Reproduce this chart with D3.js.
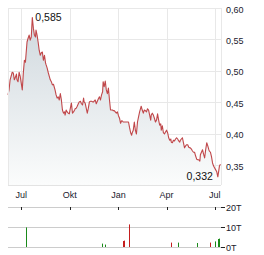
<!DOCTYPE html>
<html>
<head>
<meta charset="utf-8">
<script src="https://cdn.jsdelivr.net/npm/d3@7"></script>
<style>
  body { margin: 0; background: #fff; }
  svg { display: block; font-family: "Liberation Sans", Arial, sans-serif; }
</style>
</head>
<body>
<svg id="chart" width="264" height="255"></svg>
<script>
// price series (one entry per date)
const dates = [
  "2023-06-06","2023-06-08","2023-06-10","2023-06-14","2023-06-16","2023-06-18","2023-06-20","2023-06-22","2023-06-23","2023-06-25","2023-06-27","2023-06-29",
  "2023-07-01","2023-07-03","2023-07-05","2023-07-07","2023-07-09","2023-07-10","2023-07-12","2023-07-14","2023-07-16","2023-07-18","2023-07-20","2023-07-22","2023-07-24","2023-07-26","2023-07-28","2023-07-29","2023-07-31",
  "2023-08-02","2023-08-04","2023-08-06","2023-08-08","2023-08-10","2023-08-12","2023-08-14","2023-08-16","2023-08-17","2023-08-19","2023-08-21","2023-08-23","2023-08-25","2023-08-27","2023-08-29","2023-08-31",
  "2023-09-02","2023-09-03","2023-09-05","2023-09-07","2023-09-09","2023-09-11","2023-09-13","2023-09-15","2023-09-17","2023-09-19","2023-09-21","2023-09-22","2023-09-24","2023-09-26","2023-09-28","2023-09-30",
  "2023-10-02","2023-10-04","2023-10-06","2023-10-08","2023-10-10","2023-10-11","2023-10-13","2023-10-15","2023-10-17","2023-10-19","2023-10-21","2023-10-23","2023-10-25","2023-10-27","2023-10-28","2023-10-30",
  "2023-11-01","2023-11-03","2023-11-05","2023-11-07","2023-11-09","2023-11-11","2023-11-13","2023-11-15","2023-11-16","2023-11-18","2023-11-20","2023-11-22","2023-11-24","2023-11-26","2023-11-28","2023-11-30",
  "2023-12-02","2023-12-03","2023-12-05","2023-12-07","2023-12-09","2023-12-11","2023-12-13","2023-12-15","2023-12-17","2023-12-19","2023-12-21","2023-12-22","2023-12-24","2023-12-26","2023-12-28","2023-12-30",
  "2024-01-01","2024-01-03","2024-01-05","2024-01-07","2024-01-08","2024-01-10","2024-01-12","2024-01-14","2024-01-16","2024-01-18","2024-01-20","2024-01-22","2024-01-24","2024-01-26","2024-01-27","2024-01-29","2024-01-31",
  "2024-02-02","2024-02-04","2024-02-06","2024-02-08","2024-02-10","2024-02-12","2024-02-13","2024-02-15","2024-02-17","2024-02-19","2024-02-21","2024-02-23","2024-02-25","2024-02-27","2024-02-29",
  "2024-03-02","2024-03-03","2024-03-05","2024-03-07","2024-03-09","2024-03-11","2024-03-13","2024-03-15","2024-03-17","2024-03-19","2024-03-21","2024-03-22","2024-03-24","2024-03-26","2024-03-28","2024-03-30",
  "2024-04-01","2024-04-03","2024-04-05","2024-04-07","2024-04-09","2024-04-10","2024-04-12","2024-04-14","2024-04-16","2024-04-18","2024-04-20","2024-04-22","2024-04-24","2024-04-26","2024-04-27","2024-04-29",
  "2024-05-01","2024-05-03","2024-05-05","2024-05-07","2024-05-09","2024-05-11","2024-05-13","2024-05-15","2024-05-16","2024-05-18","2024-05-20","2024-05-22","2024-05-24","2024-05-26","2024-05-28","2024-05-30",
  "2024-06-01","2024-06-03","2024-06-04","2024-06-06","2024-06-08","2024-06-10","2024-06-12","2024-06-14","2024-06-16","2024-06-18","2024-06-20","2024-06-21","2024-06-23","2024-06-25","2024-06-27","2024-06-29",
  "2024-07-01","2024-07-03","2024-07-05","2024-07-07","2024-07-09","2024-07-10","2024-07-12"
];
const prices = [
  0.462,0.470,0.486,0.498,0.497,0.486,0.490,0.495,0.486,0.483,0.498,0.492,
  0.481,0.470,0.497,0.517,0.514,0.525,0.546,0.552,0.557,0.549,0.554,0.585,0.568,0.557,0.554,0.565,0.557,
  0.546,0.533,0.525,0.529,0.530,0.517,0.525,0.513,0.510,0.505,0.498,0.492,0.486,0.483,0.478,0.479,
  0.473,0.470,0.462,0.457,0.459,0.454,0.464,0.454,0.438,0.433,0.435,0.430,0.438,0.435,0.433,0.432,
  0.441,0.449,0.433,0.435,0.438,0.440,0.441,0.444,0.448,0.451,0.452,0.448,0.446,0.457,0.451,0.449,
  0.441,0.433,0.441,0.451,0.452,0.452,0.451,0.451,0.452,0.454,0.448,0.452,0.456,0.459,0.454,0.462,
  0.467,0.483,0.475,0.484,0.470,0.464,0.473,0.454,0.438,0.438,0.438,0.437,0.437,0.435,0.433,0.435,
  0.429,0.425,0.417,0.421,0.421,0.419,0.419,0.419,0.419,0.419,0.419,0.410,0.402,0.398,0.402,0.406,0.419,
  0.406,0.400,0.419,0.427,0.435,0.441,0.444,0.438,0.433,0.438,0.437,0.435,0.440,0.438,0.430,
  0.422,0.430,0.433,0.430,0.425,0.419,0.422,0.432,0.422,0.414,0.416,0.406,0.413,0.402,0.400,0.403,
  0.406,0.402,0.394,0.390,0.392,0.387,0.386,0.390,0.389,0.392,0.394,0.392,0.389,0.387,0.390,0.392,
  0.394,0.386,0.378,0.381,0.383,0.383,0.379,0.378,0.378,0.376,0.373,0.371,0.371,0.365,0.360,0.359,
  0.359,0.357,0.367,0.371,0.375,0.368,0.362,0.375,0.386,0.381,0.375,0.373,0.371,0.364,0.354,0.349,
  0.346,0.343,0.340,0.332,0.343,0.349,0.352
];

// volume (thousands)
const volDates = ["2023-07-10","2023-11-30","2023-12-07","2024-01-10","2024-01-12","2024-01-20","2024-04-09","2024-04-22","2024-05-28","2024-06-23","2024-07-01","2024-07-07","2024-07-09"];
const volValues = [9.8, 1.7, 1.2, 3.0, 3.2, 11.3, 2.2, 2.2, 2.0, 2.2, 2.8, 4.0, 4.2];
const volDir = ["up","up","up","down","down","down","down","up","up","down","up","up","up"];

const monthTicks = ["2023-07-01","2023-10-01","2024-01-01","2024-04-01","2024-07-01"];
const monthLabels = ["Jul","Okt","Jan","Apr","Jul"];
const priceTicks = [0.35, 0.40, 0.45, 0.50, 0.55, 0.60];
const volTicks = [0, 10, 20];

const parse = d3.timeParse("%Y-%m-%d");
const de = d3.formatLocale({ decimal: ",", thousands: ".", grouping: [3], currency: ["", "€"] });
const fmt2 = de.format(".2f");
const fmt3 = de.format(".3f");

const data = dates.map((d, i) => ({ date: parse(d), value: prices[i] }));
const vols = volDates.map((d, i) => ({ date: parse(d), value: volValues[i], dir: volDir[i] }));

const svg = d3.select("#chart");
const left = 8, right = 221;
const plotTop = 8, plotBottom = 185;

const x = d3.scaleTime()
  .domain([parse("2023-06-06"), parse("2024-07-13")])
  .range([left, right]);
const y = d3.scaleLinear().domain([0.319, 0.60]).range([plotBottom, plotTop]);

// gradient for area
const grad = svg.append("defs").append("linearGradient")
  .attr("id", "fillGrad").attr("gradientUnits", "userSpaceOnUse")
  .attr("x1", 0).attr("x2", 0).attr("y1", plotTop).attr("y2", plotBottom);
grad.append("stop").attr("offset", "0%").attr("stop-color", "#cdd6dc");
grad.append("stop").attr("offset", "100%").attr("stop-color", "#fbfcfc");

// grid
const grid = svg.append("g").attr("stroke", "#e8e8e8").attr("stroke-width", 1);
grid.selectAll(".hg").data(priceTicks).enter().append("line")
  .attr("x1", left).attr("x2", right)
  .attr("y1", d => Math.round(y(d)) + 0.5).attr("y2", d => Math.round(y(d)) + 0.5);
grid.selectAll(".vg").data(monthTicks).enter().append("line")
  .attr("x1", d => Math.round(x(parse(d))) + 0.5).attr("x2", d => Math.round(x(parse(d))) + 0.5)
  .attr("y1", plotTop).attr("y2", plotBottom);

// area + line
svg.append("path").datum(data)
  .attr("fill", "url(#fillGrad)")
  .attr("d", d3.area().x(d => x(d.date)).y0(plotBottom).y1(d => y(d.value)));

svg.append("path").datum(data)
  .attr("fill", "none")
  .attr("stroke", "#c0474a")
  .attr("stroke-width", 1.1)
  .attr("stroke-linejoin", "round")
  .attr("d", d3.line().x(d => x(d.date)).y(d => y(d.value)));

// frame
svg.append("line").attr("x1", left + 0.5).attr("x2", left + 0.5).attr("y1", plotTop).attr("y2", plotBottom).attr("stroke", "#e8e8e8");
svg.append("line").attr("x1", right + 0.5).attr("x2", right + 0.5).attr("y1", plotTop).attr("y2", plotBottom).attr("stroke", "#e8e8e8");
svg.append("line").attr("x1", left).attr("x2", right).attr("y1", plotBottom + 0.5).attr("y2", plotBottom + 0.5).attr("stroke", "#e3e3e3");

// y labels (right)
svg.selectAll(".yl").data(priceTicks).enter().append("text")
  .attr("x", 226).attr("y", d => y(d) + 4.5)
  .attr("font-size", 9).attr("fill", "#1a1a2e")
  .text(d => fmt2(d));

// x labels
svg.selectAll(".xl").data(monthTicks).enter().append("text")
  .attr("x", d => x(parse(d))).attr("y", 198)
  .attr("text-anchor", "middle").attr("font-size", 9).attr("fill", "#1a1a2e")
  .text((d, i) => monthLabels[i]);

// high / low annotations
const maxP = data.reduce((a, b) => (b.value > a.value ? b : a));
const minP = data.reduce((a, b) => (b.value < a.value ? b : a));
svg.append("text").attr("x", x(maxP.date) + 3).attr("y", y(maxP.value) + 4)
  .attr("font-size", 10.5).attr("fill", "#111").text(fmt3(maxP.value));
svg.append("text").attr("x", x(minP.date) - 5).attr("y", y(minP.value) + 3)
  .attr("text-anchor", "end").attr("font-size", 10.5).attr("fill", "#111").text(fmt3(minP.value));

// volume panel
const vy = d3.scaleLinear().domain([0, 20]).range([247, 207]);
svg.selectAll(".vgl").data(volTicks).enter().append("line")
  .attr("x1", left).attr("x2", right)
  .attr("y1", d => vy(d) + 0.5).attr("y2", d => vy(d) + 0.5)
  .attr("stroke", "#cccccc");
svg.selectAll(".vt").data(volTicks).enter().append("line")
  .attr("x1", right).attr("x2", right + 4)
  .attr("y1", d => vy(d) + 0.5).attr("y2", d => vy(d) + 0.5)
  .attr("stroke", "#222");
svg.selectAll(".vl").data(volTicks).enter().append("text")
  .attr("x", 226).attr("y", d => vy(d) + 4)
  .attr("font-size", 9).attr("fill", "#1a1a2e")
  .text(d => d + "T");
svg.selectAll(".mt").data(monthTicks).enter().append("line")
  .attr("x1", d => Math.round(x(parse(d))) + 0.5).attr("x2", d => Math.round(x(parse(d))) + 0.5)
  .attr("y1", vy(20)).attr("y2", vy(20) + 3)
  .attr("stroke", "#222");
svg.selectAll(".vb").data(vols).enter().append("rect")
  .attr("x", d => Math.round(x(d.date)))
  .attr("width", 1)
  .attr("y", d => vy(d.value))
  .attr("height", d => vy(0) - vy(d.value))
  .attr("fill", d => (d.dir === "up" ? "#1a8a1a" : "#c41e1e"));
</script>
</body>
</html>
